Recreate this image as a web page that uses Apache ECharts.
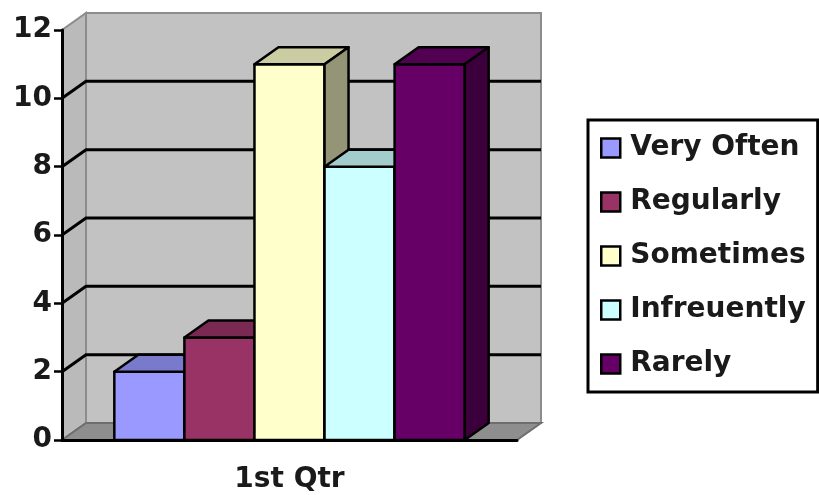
<!DOCTYPE html>
<html>
<head>
<meta charset="utf-8">
<script src="https://cdn.jsdelivr.net/npm/echarts@6/dist/echarts.min.js"></script>
<style>
  html, body { margin: 0; padding: 0; background: #fff; }
  #chart { width: 819px; height: 495px; }
</style>
</head>
<body>
<div id="chart"></div>
<script>
const categories = ['1st Qtr'];
const seriesNames = ['Very Often', 'Regularly', 'Sometimes', 'Infreuently', 'Rarely'];
const seriesValues = [2, 3, 11, 8, 11];
const seriesColors = ['#9999ff', '#993366', '#ffffcc', '#ccffff', '#660066'];
const yTicks = [0, 2, 4, 6, 8, 10, 12];

// oblique "3d" depth offset, like the old excel charts
const DX = 24, DY = -17;
const BAR_FRAC = 0.154;
const FONT = 'DejaVu Sans';

const shade = (hex, k) => {
  const n = parseInt(hex.slice(1), 16);
  const r = Math.round(((n >> 16) & 255) * k);
  const g = Math.round(((n >> 8) & 255) * k);
  const b = Math.round((n & 255) * k);
  return `rgb(${r},${g},${b})`;
};

// back wall, left wall, floor and gridlines
function renderWalls(params, api) {
  const band = api.size([1, 0])[0];
  const c = api.coord([0, yTicks[0]]);
  const yMax = api.coord([0, yTicks[yTicks.length - 1]])[1];
  const x0 = c[0] - band / 2, x1 = c[0] + band / 2, y0 = c[1];
  const children = [
    {
      type: 'polygon',
      shape: { points: [[x0 + DX, y0 + DY], [x1 + DX, y0 + DY], [x1 + DX, yMax + DY], [x0 + DX, yMax + DY]] },
      style: { fill: '#c2c2c2', stroke: '#8c8c8c', lineWidth: 2 }
    },
    {
      type: 'polygon',
      shape: { points: [[x0, y0], [x0 + DX, y0 + DY], [x0 + DX, yMax + DY], [x0, yMax]] },
      style: { fill: '#bababa', stroke: '#8c8c8c', lineWidth: 2 }
    },
    {
      type: 'polygon',
      shape: { points: [[x0, y0], [x1, y0], [x1 + DX, y0 + DY], [x0 + DX, y0 + DY]] },
      style: { fill: '#8e8e8e', stroke: '#6e6e6e', lineWidth: 2 }
    }
  ];
  yTicks.slice(1, -1).forEach(v => {
    const y = api.coord([0, v])[1];
    children.push({
      type: 'polyline',
      shape: { points: [[x0, y], [x0 + DX, y + DY], [x1 + DX, y + DY]] },
      style: { stroke: '#000', lineWidth: 3, fill: null }
    });
  });
  return { type: 'group', children };
}

function renderBar(params, api) {
  const i = api.value(2);
  const band = api.size([1, 0])[0];
  const base = api.coord([api.value(0), 0]);
  const top = api.coord([api.value(0), api.value(1)]);
  const w = band * BAR_FRAC;
  const left = base[0] - w * seriesNames.length / 2 + i * w;
  const right = left + w;
  const yb = base[1], yt = top[1];
  const col = seriesColors[i];
  const edge = { stroke: '#000', lineWidth: 2.5, lineJoin: 'round' };
  return {
    type: 'group',
    children: [
      { type: 'polygon', shape: { points: [[left, yb], [right, yb], [right, yt], [left, yt]] }, style: Object.assign({ fill: col }, edge) },
      { type: 'polygon', shape: { points: [[left, yt], [right, yt], [right + DX, yt + DY], [left + DX, yt + DY]] }, style: Object.assign({ fill: shade(col, 0.8) }, edge) },
      { type: 'polygon', shape: { points: [[right, yb], [right + DX, yb + DY], [right + DX, yt + DY], [right, yt]] }, style: Object.assign({ fill: shade(col, 0.58) }, edge) }
    ]
  };
}

const chart = echarts.init(document.getElementById('chart'));

const series = [{
  name: 'walls',
  type: 'custom',
  renderItem: renderWalls,
  data: [[0, 0]],
  silent: true,
  z: 1
}];
seriesNames.forEach((name, i) => {
  series.push({
    name: name,
    type: 'custom',
    renderItem: renderBar,
    itemStyle: { color: seriesColors[i] },
    data: [[0, seriesValues[i], i]],
    z: 2
  });
});

chart.setOption({
  animation: false,
  grid: { left: 62, right: 302, top: 30, bottom: 55 },
  legend: {
    orient: 'vertical',
    left: 588,
    top: 120,
    data: seriesNames,
    icon: 'rect',
    itemWidth: 19,
    itemHeight: 19,
    itemGap: 26,
    padding: [14, 12, 14, 12],
    borderColor: '#000',
    borderWidth: 3,
    backgroundColor: '#fff',
    selectedMode: false,
    itemStyle: { borderColor: '#000', borderWidth: 2.5 },
    textStyle: { fontFamily: FONT, fontWeight: 'bold', fontSize: 28, color: '#1a1a1a', padding: [0, 0, 0, 5] }
  },
  xAxis: {
    type: 'category',
    data: categories,
    z: 10,
    axisLine: { lineStyle: { color: '#000', width: 3 } },
    axisTick: { length: 11, lineStyle: { color: '#000', width: 3 } },
    axisLabel: { fontFamily: FONT, fontWeight: 'bold', fontSize: 28, color: '#1a1a1a', margin: 26 },
    splitLine: { show: false }
  },
  yAxis: {
    type: 'value',
    min: 0,
    max: 12,
    interval: 2,
    z: 10,
    axisLine: { show: true, lineStyle: { color: '#000', width: 3 } },
    axisTick: { show: true, length: 8, lineStyle: { color: '#000', width: 2.5 } },
    axisLabel: { fontFamily: FONT, fontWeight: 'bold', fontSize: 28, color: '#1a1a1a', margin: 10 },
    splitLine: { show: false }
  },
  series: series
});
</script>
</body>
</html>
